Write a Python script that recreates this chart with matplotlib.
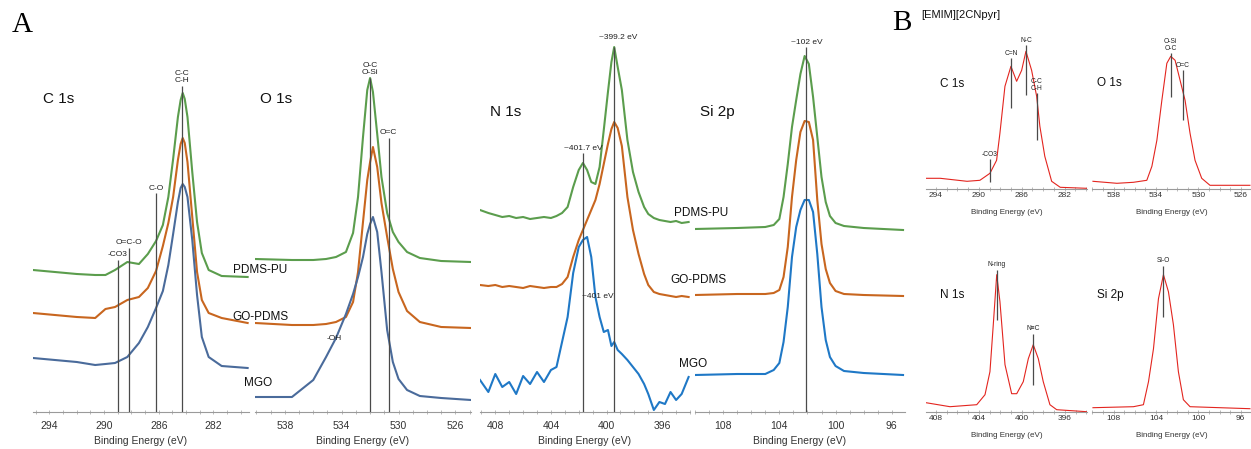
import matplotlib
matplotlib.use("Agg")
from matplotlib import pyplot as plt
from matplotlib.ticker import MultipleLocator

plt.rcParams['font.family'] = ['Liberation Sans', 'DejaVu Sans']

# ---- panel A: PDMS-PU / GO-PDMS / MGO (heights, offset included)
c1s_ev = [295.2, 292.0, 290.65, 289.9, 289.2, 288.3, 287.45, 286.8, 286.2, 285.7, 285.3, 284.95,
          284.6, 284.4, 284.25, 284.1, 283.9, 283.55, 283.2, 282.85, 282.35, 281.4, 279.5]
c1s_pu = [142, 138, 137, 137, 142, 150, 148, 158, 171, 187, 215, 253,
          295, 312, 319, 313, 295, 240, 190, 159, 142, 136, 135]
c1s_go = [99, 95, 94, 103, 105, 112, 115, 124, 141, 166, 189, 215,
          252, 268, 274, 269, 250, 195, 140, 112, 99, 94, 89]
c1s_mgo = [54, 50, 47, 48, 49, 55, 69, 85, 104, 121, 147, 178,
           210, 224, 228, 225, 215, 172, 117, 75, 55, 46, 44]

o1s_ev = [540.1, 537.5, 536.0, 535.1, 534.4, 533.7, 533.2, 532.85, 532.5, 532.2, 532.0,
          531.8, 531.5, 531.2, 530.8, 530.4, 530.0, 529.4, 528.5, 527.0, 524.9]
o1s_pu = [153, 152, 152, 153, 155, 160, 179, 215, 275, 322, 334,
          320, 278, 235, 199, 180, 170, 160, 154, 151, 150]
o1s_go = [89, 87, 87, 88, 90, 95, 110, 140, 190, 232, 250,
          265, 245, 209, 175, 143, 120, 101, 90, 85, 84]
o1s_mgo = [15, 15, 32, 55, 74, 98, 118, 135, 155, 178, 188,
           195, 180, 140, 82, 50, 33, 22, 16, 14, 12]

n1s_ev = [409.1, 408.5, 408.0, 407.5, 407.0, 406.5, 406.0, 405.5, 405.0, 404.5, 404.0,
          403.6, 403.2, 402.8, 402.4, 402.0, 401.7, 401.4, 401.1, 400.8, 400.5,
          400.2, 399.9, 399.65, 399.45, 399.2, 398.9, 398.5, 398.1, 397.7, 397.3,
          397.0, 396.6, 396.2, 395.8, 395.4, 395.0, 394.6, 394.1]
n1s_pu = [202, 199, 197, 195, 196, 194, 195, 193, 194, 195, 194,
          196, 199, 205, 225, 242, 249, 242, 230, 228, 245,
          282, 320, 350, 365, 345, 322, 272, 240, 220, 205,
          198, 194, 192, 191, 190, 191, 189, 190]
n1s_go = [127, 126, 127, 125, 126, 125, 124, 126, 125, 124, 125,
          125, 128, 135, 155, 172, 182, 192, 202, 212, 228,
          248, 268, 283, 290, 284, 266, 215, 182, 158, 138,
          127, 120, 118, 117, 116, 115, 116, 115]
n1s_mgo = [32, 20, 38, 25, 30, 18, 36, 28, 40, 30, 42,
           45, 70, 95, 139, 165, 172, 175, 155, 115, 95,
           80, 82, 66, 70, 62, 58, 52, 45, 38, 28,
           18, 2, 10, 8, 20, 12, 18, 35]

si2p_ev = [110.0, 107.0, 105.0, 104.4, 104.0, 103.7, 103.4, 103.1, 102.8, 102.5, 102.2,
           101.9, 101.6, 101.3, 101.0, 100.7, 100.4, 100.0, 99.4, 98.0, 95.2]
si2p_pu = [183, 184, 185, 187, 193, 215, 248, 285, 312, 338, 356,
           348, 315, 275, 235, 210, 196, 189, 186, 184, 182]
si2p_go = [117, 118, 118, 119, 122, 135, 165, 215, 252, 280, 291,
           290, 272, 212, 168, 143, 129, 121, 118, 117, 116]
si2p_mgo = [37, 38, 38, 42, 49, 70, 105, 155, 185, 202, 212,
            212, 200, 158, 105, 72, 55, 46, 41, 39, 37]

# ---- panel B: [EMIM][2CNpyr]
c1s_il_ev = [294.93, 293.6, 291.1, 289.9, 288.96, 288.34, 288.03, 287.56, 287.0, 286.47,
             286.0, 285.6, 285.07, 284.6, 284.3, 283.84, 283.2, 282.4, 279.94]
c1s_il = [11, 11, 8, 9, 16, 29, 56, 103, 123, 108, 119, 138, 119, 93, 63, 33, 8, 2, 1]

o1s_il_ev = [539.94, 537.68, 536.12, 534.86, 534.38, 533.91, 533.44, 532.97, 532.6, 532.19,
             531.72, 531.25, 530.78, 530.31, 529.68, 528.9, 525.13]
o1s_il = [8, 6, 7, 9, 23, 49, 89, 126, 133, 129, 109, 89, 56, 29, 11, 4, 4]

n1s_il_ev = [408.93, 406.7, 404.21, 403.44, 402.98, 402.67, 402.35, 402.05, 401.58, 400.96,
             400.49, 399.88, 399.41, 398.95, 398.48, 398.02, 397.4, 396.77, 393.98]
n1s_il = [9, 5, 7, 17, 40, 87, 137, 110, 47, 18, 18, 30, 53, 67, 53, 30, 7, 2, 0]

si2p_il_ev = [109.94, 106.12, 105.18, 104.7, 104.23, 103.76, 103.29, 102.82, 102.35,
              101.88, 101.41, 100.78, 95.13]
si2p_il = [4, 5, 7, 30, 63, 113, 137, 120, 87, 40, 12, 5, 3]

GREEN = '#5b9d4d'
ORANGE = '#c8661f'
BLUE = '#4a6b9b'
BLUE2 = '#1f78c6'
RED = '#e3251f'
GRAY = '#4a4a4a'

W, H = 1251, 449
fig = plt.figure(figsize=(W / 100, H / 100), dpi=100)


def add_panel(x0, x1, ytop, ybot, xlim, ticks, small=False):
    ax = fig.add_axes([x0 / W, 1 - ybot / H, (x1 - x0) / W, (ybot - ytop) / H])
    ax.set_xlim(*xlim)
    ax.set_ylim(0, ybot - ytop)
    ax.patch.set_alpha(0)
    for s in ['left', 'right', 'top']:
        ax.spines[s].set_visible(False)
    ax.spines['bottom'].set_color('#9a9a9a')
    ax.spines['bottom'].set_linewidth(0.8)
    ax.set_yticks([])
    ax.set_xticks(ticks)
    ax.xaxis.set_minor_locator(MultipleLocator(1))
    ax.tick_params(axis='x', which='both', direction='inout', length=2.5, width=0.6,
                   color='#b0b0b0', labelcolor='#333333',
                   labelsize=6 if small else 7.5, pad=1 if small else 5.5)
    ax.set_xlabel('Binding Energy (eV)', color='#333333',
                  fontsize=5.8 if small else 7.5, labelpad=7 if small else 3.5)
    return ax


def marks(ax, items, fs=6):
    for ev, lo, hi, txt in items:
        ax.vlines(ev, lo, hi, color=GRAY, lw=0.9, zorder=3)
        if txt:
            ax.text(ev, hi + 1.5, txt, ha='center', va='bottom', fontsize=fs,
                    color='#222222', linespacing=1.05)


def ftext(x, y, s, **kw):
    fig.text(x / W, 1 - y / H, s, **kw)


lw = 1.5

# C 1s
ax = add_panel(33, 249, 22, 412, (295.2, 279.4), [294, 290, 286, 282])
ax.plot(c1s_ev, c1s_pu, color=GREEN, lw=lw)
ax.plot(c1s_ev, c1s_go, color=ORANGE, lw=lw)
ax.plot(c1s_ev, c1s_mgo, color=BLUE, lw=lw)
marks(ax, [(289.0, 0, 152, '-CO3'), (288.2, 0, 164, 'O=C-O'),
           (286.2, 0, 219, 'C-O'), (284.3, 0, 326, 'C-C\nC-H')])

# O 1s
ax = add_panel(255, 471, 22, 412, (540.1, 524.9), [538, 534, 530, 526])
ax.plot(o1s_ev, o1s_pu, color=GREEN, lw=lw)
ax.plot(o1s_ev, o1s_go, color=ORANGE, lw=lw)
ax.plot(o1s_ev, o1s_mgo, color=BLUE, lw=lw)
marks(ax, [(532.0, 0, 334, 'O-C\nO-Si'), (530.7, 0, 274, 'O=C')])
ax.text(534.5, 74, '-OH', ha='center', va='center', fontsize=6, color='#222222')

# N 1s
ax = add_panel(480, 690, 22, 412, (409.1, 394.0), [408, 404, 400, 396])
ax.plot(n1s_ev, n1s_pu, color=GREEN, lw=lw)
ax.plot(n1s_ev, n1s_go, color=ORANGE, lw=lw)
ax.plot(n1s_ev, n1s_mgo, color=BLUE2, lw=lw)
marks(ax, [(401.7, 0, 259, '~401.7 eV'), (399.45, 0, 365, '')])
ax.text(399.15, 371, '~399.2 eV', ha='center', va='bottom', fontsize=6, color='#222222')
ax.text(401.75, 115, '~401 eV', ha='left', va='center', fontsize=6, color='#222222')

# Si 2p
ax = add_panel(695, 905, 22, 412, (110.0, 95.06), [108, 104, 100, 96])
ax.plot(si2p_ev, si2p_pu, color=GREEN, lw=lw)
ax.plot(si2p_ev, si2p_go, color=ORANGE, lw=lw)
ax.plot(si2p_ev, si2p_mgo, color=BLUE2, lw=lw)
marks(ax, [(102.07, 0, 365, '~102 eV')])

# panel A texts
for x, y, s in [(43, 99, 'C 1s'), (260, 99, 'O 1s'), (490, 112, 'N 1s'), (700, 112, 'Si 2p')]:
    ftext(x, y, s, fontsize=11, ha='left', va='center', color='#111111')
for x, y, s in [(260, 270, 'PDMS-PU'), (260, 317, 'GO-PDMS'), (258, 383, 'MGO'),
                (701, 213, 'PDMS-PU'), (698, 280, 'GO-PDMS'), (693, 364, 'MGO')]:
    ftext(x, y, s, fontsize=8.5, ha='center', va='center', color='#111111')
ftext(12, 25, 'A', fontsize=21, family='Liberation Serif', ha='left', va='center')
ftext(892, 23, 'B', fontsize=21, family='Liberation Serif', ha='left', va='center')
ftext(921, 15, '[EMIM][2CNpyr]', fontsize=8, ha='left', va='center', color='#111111')

# panel B
lw2 = 0.8
ax = add_panel(926, 1087, 20, 189.3, (294.93, 279.9), [294, 290, 286, 282], small=True)
ax.plot(c1s_il_ev, c1s_il, color=RED, lw=lw2)
marks(ax, [(288.96, 7, 30, '-CO3'), (287.0, 81, 131, 'C=N'),
           (285.6, 94, 144, 'N-C'), (284.6, 49, 96, 'C-C\nC-H')], fs=4.8)

ax = add_panel(1092, 1251, 20, 189.3, (540.03, 525.03), [538, 534, 530, 526], small=True)
ax.plot(o1s_il_ev, o1s_il, color=RED, lw=lw2)
marks(ax, [(532.6, 92, 136, 'O-Si\nO-C'), (531.47, 69, 119, 'O=C')], fs=4.8)

ax = add_panel(926, 1087, 242, 411.7, (408.93, 393.95), [408, 404, 400, 396], small=True)
ax.plot(n1s_il_ev, n1s_il, color=RED, lw=lw2)
marks(ax, [(402.35, 92, 142, 'N-ring'), (398.95, 27, 78, 'N≡C')], fs=4.8)

ax = add_panel(1092, 1251, 242, 411.7, (110.03, 95.03), [108, 104, 100, 96], small=True)
ax.plot(si2p_il_ev, si2p_il, color=RED, lw=lw2)
marks(ax, [(103.29, 95, 146, 'Si-O')], fs=4.8)

for x, y, s in [(940, 84, 'C 1s'), (1097, 83, 'O 1s'), (940, 295, 'N 1s'), (1097, 295, 'Si 2p')]:
    ftext(x, y, s, fontsize=8.5, ha='left', va='center', color='#111111')

fig.savefig('out.png', dpi=100)
